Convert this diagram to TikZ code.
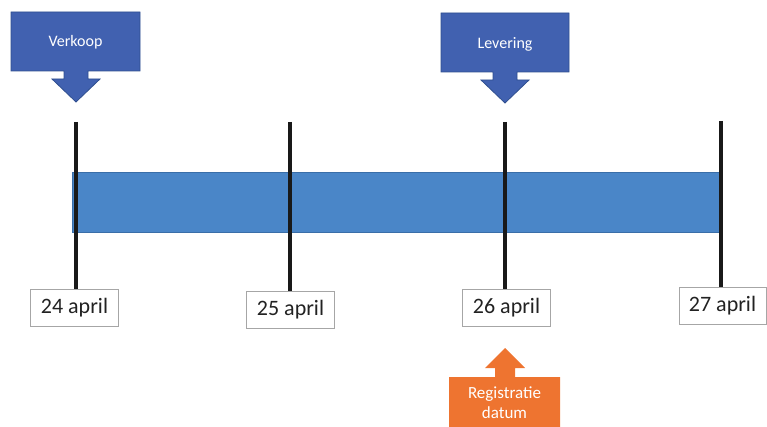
\documentclass[tikz,border=0pt]{standalone}
\usepackage{fontspec}
\setmainfont{Carlito}
\definecolor{callblue}{HTML}{4161B0}
\definecolor{calledge}{HTML}{2F4F8F}
\definecolor{barblue}{HTML}{4A86C8}
\definecolor{baredge}{HTML}{3A6EA8}
\definecolor{regorange}{HTML}{EE7430}
\definecolor{boxgrey}{HTML}{A6A6A6}
\definecolor{txtgrey}{HTML}{222222}
\tikzset{
  callout/.style={fill=callblue, draw=calledge, line width=0.8pt},
  calltext/.style={text=white, font=\fontsize{16}{18}\selectfont, inner sep=0pt},
  datebox/.style={draw=boxgrey, fill=white, line width=0.9pt, minimum width=88pt, minimum height=37pt, inner sep=0pt, text=txtgrey, font=\fontsize{22}{24}\selectfont},
  tick/.style={line width=4pt, black!90},
  regtext/.style={text=white, font=\fontsize{17}{20}\selectfont, align=center, inner sep=0pt}
}
\begin{document}
\begin{tikzpicture}[x=1pt,y=-1pt]
\useasboundingbox (0,0) rectangle (767,427);
\clip (0,0) rectangle (767,427);
% bar
\node[fill=barblue, draw=baredge, line width=0.6pt, minimum width=649pt, minimum height=60pt, inner sep=0pt] (bar) at (396.5,202) {};
% date boxes
\node[datebox] (d1) at (74.5,307.5) {24 april};
\node[datebox] (d2) at (290.5,310) {25 april};
\node[datebox] (d3) at (506.5,308) {26 april};
\node[datebox, minimum width=87pt] (d4) at (722.5,305.5) {27 april};
% tick tops
\coordinate (t1) at (76,122);
\coordinate (t2) at (290,122);
\coordinate (t3) at (505,122);
\coordinate (t4) at (721,121);
\draw[tick] (t1) -- (t1 |- d1.north);
\draw[tick] (t2) -- (t2 |- d2.north);
\draw[tick] (t3) -- (t3 |- d3.north);
\draw[tick] (t4) -- (t4 |- d4.north);
% callouts
\draw[callout] (11,12) -- (140,12) -- (140,71) -- (88,71) -- (88,79) -- (100,79) -- (76,102) -- (52,79) -- (64,79) -- (64,71) -- (11,71) -- cycle;
\node[calltext] (verkoop) at (75.5,42) {Verkoop};
\draw[callout] (441,13) -- (569,13) -- (569,72) -- (517,72) -- (517,80) -- (529,80) -- (505,103) -- (481,80) -- (493,80) -- (493,72) -- (441,72) -- cycle;
\node[calltext] (levering) at (505,44) {Levering};
% registratie
\fill[regorange] (449,427) -- (449,377) -- (495,377) -- (495,368) -- (485,368) -- (505,348) -- (525,368) -- (515,368) -- (515,377) -- (560,377) -- (560,427) -- cycle;
\node[regtext] (reg) at (504.5,403) {Registratie\\datum};
\end{tikzpicture}
\end{document}
